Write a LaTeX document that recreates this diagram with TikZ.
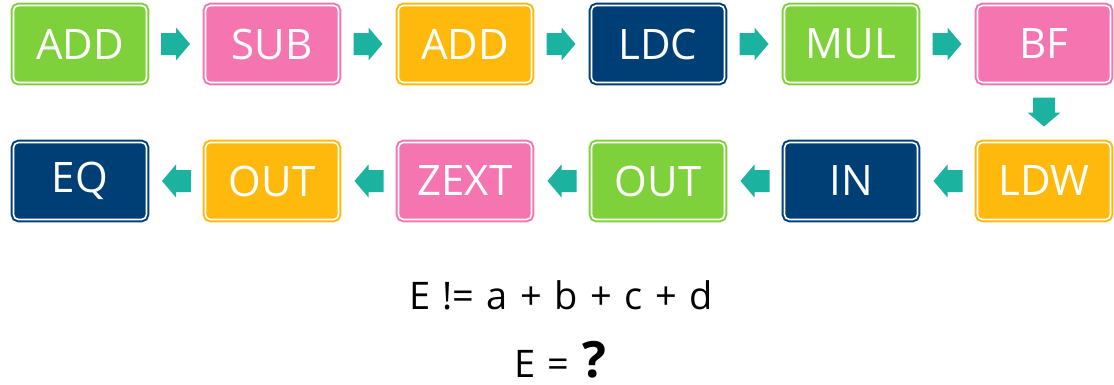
\documentclass[tikz,border=0pt]{standalone}
\usepackage{fontspec}
\setmainfont{Open Sans}
\usetikzlibrary{calc}
\definecolor{cgreen}{HTML}{7FD13B}
\definecolor{cpink}{HTML}{F575B0}
\definecolor{corange}{HTML}{FFB80C}
\definecolor{cnavy}{HTML}{003F76}
\definecolor{cteal}{HTML}{1BB39F}
\newcommand\widespaces{\spaceskip=12.5pt\relax}
\tikzset{
  op/.style={draw=#1, fill=#1, line width=2pt, rounded corners=5pt,
    minimum width=133pt, minimum height=77pt, inner sep=0pt,
    text=white, font=\fontsize{42}{42}\selectfont,
    double=white, double distance=1.6pt},
  eqtext/.style={font=\fontsize{38}{38}\selectfont\widespaces,
    anchor=base, inner sep=0pt},
  pics/flow/.style={code={
    \fill[cteal] (-15,-11) -- (0,-11) -- (0,-16.5) -- (14,0)
      -- (0,16.5) -- (0,11) -- (-15,11) -- cycle;}},
}
\begin{document}
\begin{tikzpicture}[x=1pt,y=-1pt]
\useasboundingbox (0,0) rectangle (1114,384);
% first row, left to right
\node[op=cgreen]  (a1) at (80,44)   {ADD};
\node[op=cpink]   (a2) at (272,44)  {SUB};
\node[op=corange] (a3) at (465,44)  {ADD};
\node[op=cnavy]   (a4) at (658,44)  {LDC};
\node[op=cgreen]  (a5) at (851,44)  {MUL};
\node[op=cpink]   (a6) at (1044,44) {BF};
% second row, right to left
\node[op=corange] (b1) at (1044,181) {LDW};
\node[op=cnavy]   (b2) at (851,181)  {IN};
\node[op=cgreen]  (b3) at (658,181)  {OUT};
\node[op=cpink]   (b4) at (465,181)  {ZEXT};
\node[op=corange] (b5) at (272,181)  {OUT};
\node[op=cnavy]   (b6) at (80,181)   {EQ};
% block arrows between the steps
\foreach \p/\q in {a1/a2,a2/a3,a3/a4,a4/a5,a5/a6}
  \pic at ($(\p.east)!0.5!(\q.west)$) {flow};
\foreach \p/\q in {b1/b2,b2/b3,b3/b4,b4/b5,b5/b6}
  \pic[rotate=180] at ($(\p.west)!0.5!(\q.east)$) {flow};
\pic[rotate=-90] at ($(a6.south)!0.5!(b1.north)$) {flow};
% equations
\node[eqtext] (eq1) at (561,309) {E != a + b + c + d};
\node[eqtext] (eq2) at (560,377) {E = \textbf{\fontsize{50}{50}\selectfont ?}};
\end{tikzpicture}
\end{document}
